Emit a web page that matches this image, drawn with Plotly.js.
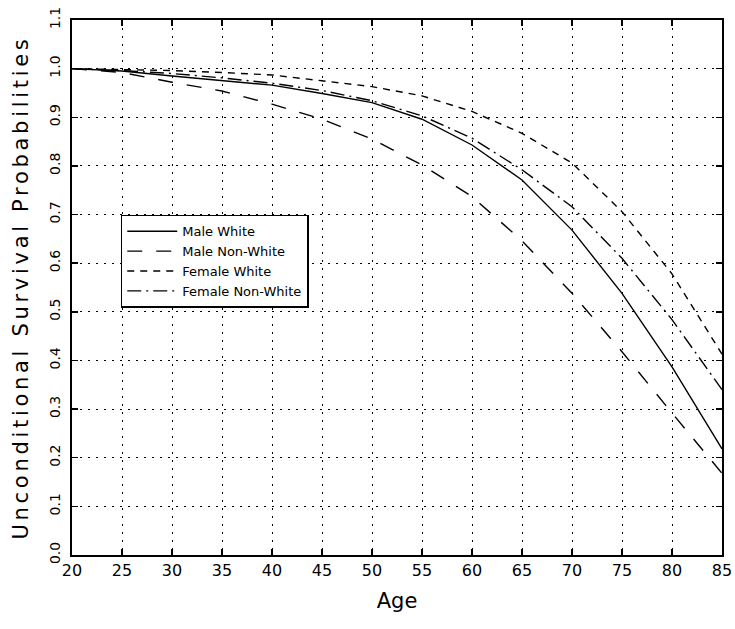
<!DOCTYPE html>
<html>
<head>
<meta charset="utf-8">
<script src="https://cdn.plot.ly/plotly-3.0.1.min.js"></script>
<style>
html,body{margin:0;padding:0;background:#fff;}
#chart{width:735px;height:629px;}
.g-ytitle text{letter-spacing:3.7px;}
</style>
</head>
<body>
<div id="chart"></div>
<script>
const ages = [20, 25, 30, 35, 40, 45, 50, 55, 60, 65, 70, 75, 80, 85];
const maleWhite      = [1.000, 0.995, 0.985, 0.975, 0.966, 0.949, 0.930, 0.896, 0.843, 0.771, 0.668, 0.538, 0.387, 0.218];
const maleNonWhite   = [1.000, 0.992, 0.972, 0.954, 0.927, 0.896, 0.855, 0.802, 0.737, 0.646, 0.538, 0.418, 0.292, 0.168];
const femaleWhite    = [1.000, 0.998, 0.996, 0.992, 0.987, 0.975, 0.963, 0.944, 0.912, 0.867, 0.806, 0.706, 0.578, 0.413];
const femaleNonWhite = [1.000, 0.996, 0.990, 0.981, 0.970, 0.955, 0.934, 0.903, 0.857, 0.792, 0.716, 0.610, 0.484, 0.340];
const seriesNames = ["Male White", "Male Non-White", "Female White", "Female Non-White"];
const xTicks = [20, 25, 30, 35, 40, 45, 50, 55, 60, 65, 70, 75, 80, 85];
const yTicks = [0.0, 0.1, 0.2, 0.3, 0.4, 0.5, 0.6, 0.7, 0.8, 0.9, 1.0, 1.1];

const dashes = ["solid", "15px,14px", "7px,6px", "14px,5px,2px,5px"];
const series = [maleWhite, maleNonWhite, femaleWhite, femaleNonWhite];

const traces = series.map((ys, i) => ({
  x: ages, y: ys, type: "scatter", mode: "lines", name: seriesNames[i],
  line: {color: "#000", width: 1.4, dash: dashes[i]}
}));

const font = "DejaVu Sans, sans-serif";
const layout = {
  width: 735, height: 629,
  margin: {l: 72, r: 13, t: 20, b: 74},
  paper_bgcolor: "#fff", plot_bgcolor: "#fff",
  showlegend: true,
  legend: {
    x: 0.075, y: 0.636, xanchor: "left", yanchor: "top",
    bordercolor: "#000", borderwidth: 1.5, bgcolor: "#fff",
    font: {family: font, size: 13, color: "#000"},
    itemwidth: 50,
    tracegroupgap: 0
  },
  xaxis: {
    range: [20, 85], tickvals: xTicks, ticktext: xTicks.map(String),
    showgrid: true, gridcolor: "#000", gridwidth: 1, griddash: "2px,6px",
    zeroline: false, showline: true, linecolor: "#000", linewidth: 2, mirror: "ticks",
    ticks: "inside", ticklen: 6, tickcolor: "#000", tickwidth: 1.5,
    tickfont: {family: font, size: 16, color: "#000"},
    title: {text: "Age", font: {family: font, size: 21, color: "#000"}, standoff: 14}
  },
  yaxis: {
    range: [0, 1.1], tickvals: yTicks, ticktext: yTicks.map(v => v.toFixed(1)),
    tickangle: -90,
    showgrid: true, gridcolor: "#000", gridwidth: 1, griddash: "2px,6px",
    zeroline: false, showline: true, linecolor: "#000", linewidth: 2, mirror: "ticks",
    ticks: "inside", ticklen: 6, tickcolor: "#000", tickwidth: 1.5,
    tickfont: {family: font, size: 14, color: "#000"},
    ticklabelstandoff: 4,
    title: {text: "Unconditional Survival Probabilities", font: {family: font, size: 21, color: "#000"}, standoff: 13}
  }
};

Plotly.newPlot("chart", traces, layout, {displayModeBar: false, staticPlot: true});
</script>
</body>
</html>
